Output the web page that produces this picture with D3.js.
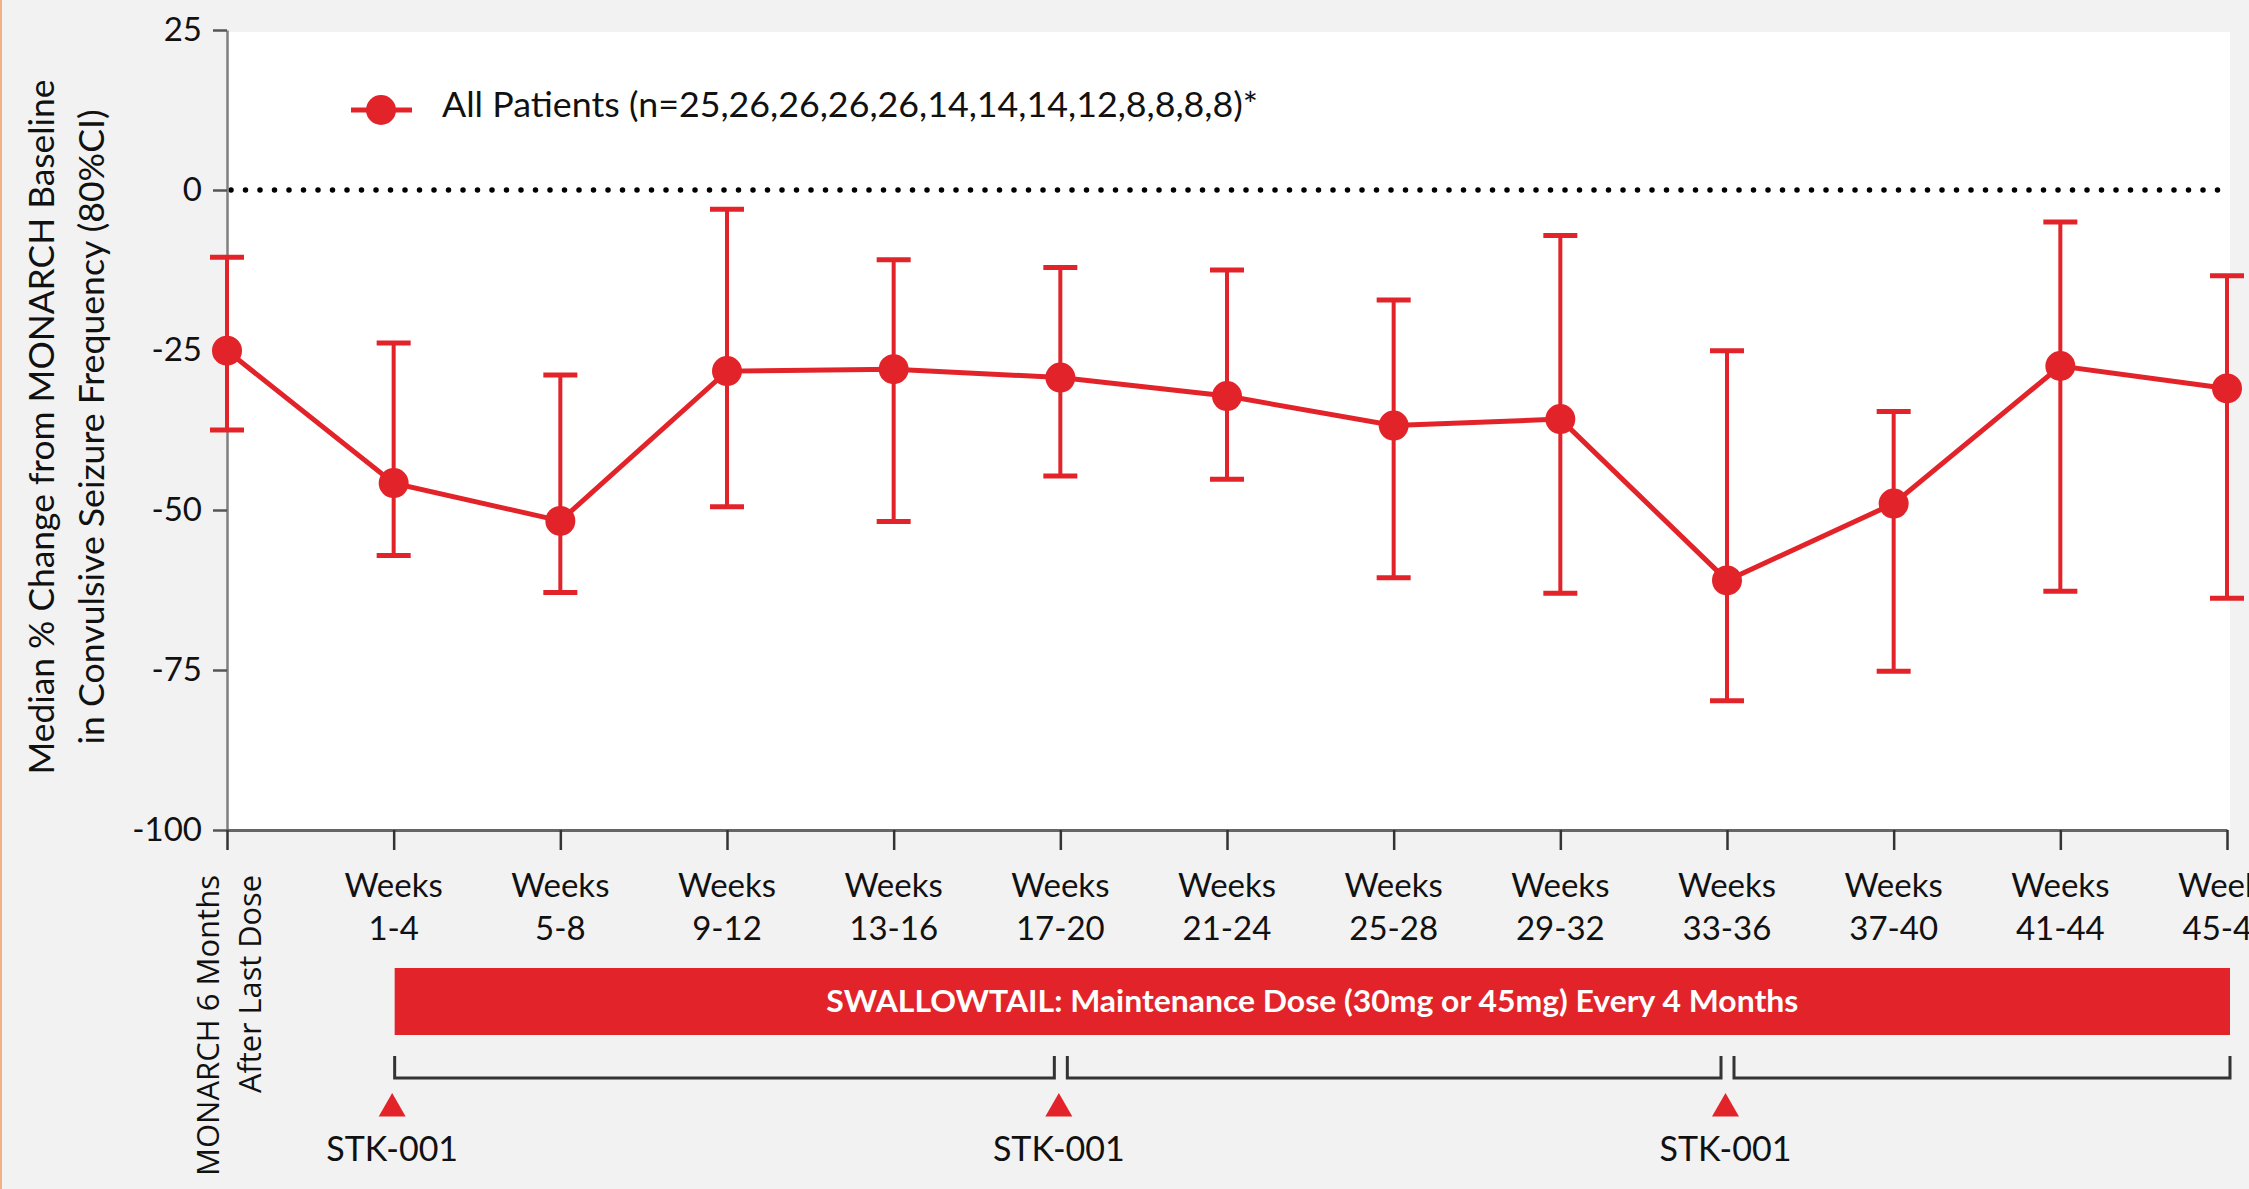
<!DOCTYPE html>
<html>
<head>
<meta charset="utf-8">
<script src="https://cdn.jsdelivr.net/npm/d3@7"></script>
<style>
    body { margin: 0; background: #f2f2f2; overflow: hidden; }
    svg { display: block; }
    text { font-family: Lato, "Open Sans", sans-serif; fill: #111; }
</style>
</head>
<body>
<div id="main"></div>
<script>
const ctx = {
    w: 2249,
    h: 1189,
    red: "#e2242a",
};

// chart data
const weekRanges = ["1-4", "5-8", "9-12", "13-16", "17-20", "21-24", "25-28", "29-32", "33-36", "37-40", "41-44", "45-48"];
const baselineLabel = ["MONARCH 6 Months", "After Last Dose"];
const categories = ["MONARCH"].concat(weekRanges.map(r => "Weeks " + r));

const medianChange = [-25.1, -45.8, -51.7, -28.3, -28.0, -29.3, -32.2, -36.8, -35.8, -61.0, -49.0, -27.5, -31.0];
const ciHigh = [-10.5, -23.9, -28.9, -3.0, -10.9, -12.1, -12.5, -17.2, -7.1, -25.1, -34.6, -5.0, -13.4];
const ciLow = [-37.5, -57.1, -62.9, -49.5, -51.8, -44.7, -45.2, -60.6, -63.0, -79.8, -75.2, -62.7, -63.8];

const yTicks = [25, 0, -25, -50, -75, -100];
const yTitle = ["Median % Change from MONARCH Baseline", "in Convulsive Seizure Frequency (80%CI)"];
const legendLabel = "All Patients (n=25,26,26,26,26,14,14,14,12,8,8,8,8)*";

const doseAt = ["Weeks 1-4", "Weeks 17-20", "Weeks 33-36"];
const doseLabel = "STK-001";
const bandText = "SWALLOWTAIL: Maintenance Dose (30mg or 45mg) Every 4 Months";

function createChart(svg) {
    let x = d3.scalePoint().domain(categories).range([227, 2227]);
    let y = d3.scaleLinear().domain([-100, 25]).range([830, 30]);
    let x0 = x.range()[0], xEnd = x(categories[categories.length - 1]) + 3;

    svg.append("rect").attr("width", ctx.w).attr("height", ctx.h).attr("fill", "#f2f2f2");
    svg.append("rect").attr("x", 0).attr("width", 2).attr("height", ctx.h).attr("fill", "#f4b183");

    // white plotting area
    svg.append("rect")
        .attr("x", x0).attr("y", 32)
        .attr("width", xEnd - x0).attr("height", y(-100) - 32)
        .attr("fill", "#fff");

    // dotted zero line
    svg.append("line")
        .attr("x1", x0 + 4).attr("x2", xEnd)
        .attr("y1", y(0)).attr("y2", y(0))
        .attr("stroke", "#000").attr("stroke-width", 5.5)
        .attr("stroke-linecap", "round").attr("stroke-dasharray", "0 14.5");

    // y axis
    let yAxis = svg.append("g")
        .attr("transform", "translate(" + x0 + ",0)")
        .call(d3.axisLeft(y).tickValues(yTicks).tickSize(14).tickSizeOuter(0).tickPadding(11).tickFormat(d => String(d)));
    yAxis.select(".domain").attr("stroke", "#7f7f7f").attr("stroke-width", 2.5);
    yAxis.selectAll(".tick line").attr("stroke", "#555").attr("stroke-width", 2.5);
    yAxis.selectAll(".tick text").attr("font-size", 33);

    // x axis
    let xAxis = svg.append("g")
        .attr("transform", "translate(0," + y(-100) + ")")
        .call(d3.axisBottom(x).tickSize(20).tickSizeOuter(0).tickFormat(""));
    xAxis.select(".domain").attr("stroke", "#666").attr("stroke-width", 3);
    xAxis.selectAll(".tick line").attr("stroke", "#333").attr("stroke-width", 2.5);

    svg.selectAll(".wk-top")
        .data(weekRanges)
        .enter().append("text")
        .attr("x", (d, i) => x(categories[i + 1]))
        .attr("y", 897)
        .attr("text-anchor", "middle")
        .attr("font-size", 33)
        .text("Weeks");

    svg.selectAll(".wk-bot")
        .data(weekRanges)
        .enter().append("text")
        .attr("x", (d, i) => x(categories[i + 1]))
        .attr("y", 940)
        .attr("text-anchor", "middle")
        .attr("font-size", 33)
        .text(d => d);

    // rotated baseline category label
    baselineLabel.forEach((t, i) => {
        svg.append("text")
            .attr("transform", "translate(" + (219 + i * 42) + ",875) rotate(-90)")
            .attr("text-anchor", "end")
            .attr("font-size", 31)
            .style("font-family", "'Open Sans', sans-serif")
            .attr("textLength", i == 0 ? 301 : 218)
            .attr("lengthAdjust", "spacingAndGlyphs")
            .text(t);
    });

    // y title
    yTitle.forEach((t, i) => {
        svg.append("text")
            .attr("transform", "translate(" + (54 + i * 50) + ",427) rotate(-90)")
            .attr("text-anchor", "middle")
            .attr("font-size", 35)
            .attr("textLength", i == 0 ? 695 : 635)
            .attr("lengthAdjust", "spacingAndGlyphs")
            .text(t);
    });

    // error bars
    let bars = svg.selectAll(".err")
        .data(categories)
        .enter().append("g")
        .attr("class", "err")
        .attr("stroke", ctx.red);
    bars.append("line")
        .attr("x1", d => x(d)).attr("x2", d => x(d))
        .attr("y1", (d, i) => y(ciLow[i])).attr("y2", (d, i) => y(ciHigh[i]))
        .attr("stroke-width", 4);
    bars.append("line")
        .attr("x1", d => x(d) - 17).attr("x2", d => x(d) + 17)
        .attr("y1", (d, i) => y(ciHigh[i])).attr("y2", (d, i) => y(ciHigh[i]))
        .attr("stroke-width", 5);
    bars.append("line")
        .attr("x1", d => x(d) - 17).attr("x2", d => x(d) + 17)
        .attr("y1", (d, i) => y(ciLow[i])).attr("y2", (d, i) => y(ciLow[i]))
        .attr("stroke-width", 5);

    // median line + markers
    let line = d3.line()
        .x((d, i) => x(categories[i]))
        .y(d => y(d));
    svg.append("path")
        .datum(medianChange)
        .attr("d", line)
        .attr("fill", "none")
        .attr("stroke", ctx.red)
        .attr("stroke-width", 5);
    svg.selectAll(".pt")
        .data(medianChange)
        .enter().append("circle")
        .attr("cx", (d, i) => x(categories[i]))
        .attr("cy", d => y(d))
        .attr("r", 15)
        .attr("fill", ctx.red);

    // legend
    let lg = svg.append("g").attr("transform", "translate(381,110)");
    lg.append("line").attr("x1", -30).attr("x2", 31).attr("stroke", ctx.red).attr("stroke-width", 5);
    lg.append("circle").attr("r", 15).attr("fill", ctx.red);
    svg.append("text")
        .attr("x", 442).attr("y", 117)
        .attr("font-size", 34)
        .attr("textLength", 816)
        .attr("lengthAdjust", "spacingAndGlyphs")
        .text(legendLabel);

    // maintenance band
    let bx = x(categories[1]) + 1;
    svg.append("rect")
        .attr("x", bx).attr("y", 968)
        .attr("width", xEnd - bx).attr("height", 67)
        .attr("fill", ctx.red);
    svg.append("text")
        .attr("x", (bx + xEnd) / 2).attr("y", 1012)
        .attr("text-anchor", "middle")
        .attr("font-size", 31)
        .attr("font-weight", 700)
        .attr("textLength", 972)
        .attr("lengthAdjust", "spacingAndGlyphs")
        .style("fill", "#fff")
        .text(bandText);

    // brackets between doses
    let edges = doseAt.map(d => x(d)).concat([xEnd]);
    for (let k = 0; k < doseAt.length; k++) {
        let a = edges[k] + (k == 0 ? 1 : 7);
        let b = edges[k + 1] - (k == doseAt.length - 1 ? 0 : 6);
        svg.append("path")
            .attr("d", "M" + a + ",1056V1078H" + b + "V1056")
            .attr("fill", "none")
            .attr("stroke", "#333")
            .attr("stroke-width", 3);
    }

    // dose markers
    svg.selectAll(".dose")
        .data(doseAt)
        .enter().append("path")
        .attr("transform", d => "translate(" + (x(d) - 1.5) + ",1108.6)")
        .attr("d", d3.symbol().type(d3.symbolTriangle).size(315))
        .attr("fill", ctx.red);
    svg.selectAll(".dose-lbl")
        .data(doseAt)
        .enter().append("text")
        .attr("x", d => x(d) - 1.5)
        .attr("y", 1161)
        .attr("text-anchor", "middle")
        .attr("font-size", 34)
        .text(doseLabel);
}

function createViz() {
    let svgEl = d3.select("#main").append("svg");
    svgEl.attr("width", ctx.w);
    svgEl.attr("height", ctx.h);
    createChart(svgEl);
}

createViz();
</script>
</body>
</html>
